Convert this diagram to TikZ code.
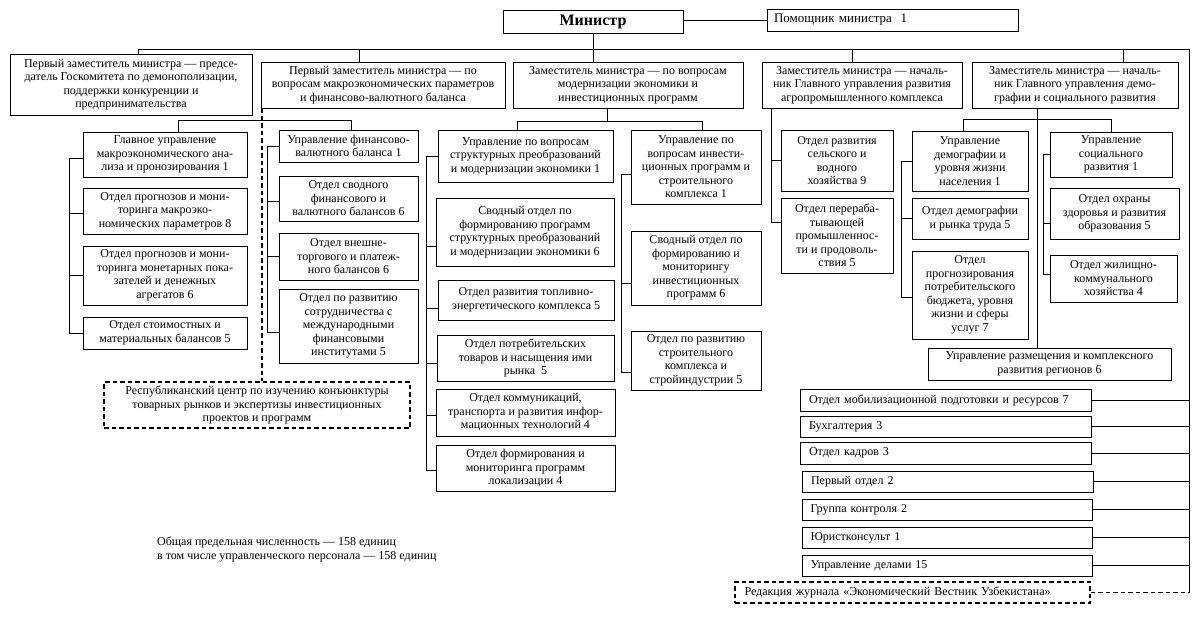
\documentclass[tikz,border=0pt]{standalone}
\usepackage{fontspec}
\setmainfont{Liberation Serif}
\newcommand\fs{\fontsize{12}{13.5}\selectfont}
\newcommand\bx[7][]{\node[box,minimum width={#5-#3},minimum height={#6-#4},#1] (#2) at ({(#3+#5)/2},{(#4+#6)/2}) {#7};}
\begin{document}
\begin{tikzpicture}[x=1pt,y=-1pt,
 box/.style={draw, line width=0.8pt, inner sep=1pt, align=center, font=\fs},
 lbox/.style={align=left, text width=273pt},
 dbox/.style={line width=1.8pt, dash pattern=on 4.5pt off 3pt},
 ln/.style={line width=0.8pt},
 dln/.style={line width=1.8pt, dash pattern=on 4.5pt off 3pt}]
\useasboundingbox[fill=white] (0,0) rectangle (1204,629);
% top
\bx[font=\fontsize{16}{18}\selectfont\bfseries]{min}{503}{10}{683}{33}{Министр}
\bx[align=left, text width=237pt, font=\fontsize{13}{15}\selectfont]{pom}{767}{9}{1018}{31}{Помощник министра~~1}
\bx{d1}{10}{54}{252}{115}{Первый заместитель министра — предсе-\\датель Госкомитета по демонополизации,\\поддержки конкуренции и\\предпринимательства}
\bx{d2}{261}{62}{505}{108}{Первый заместитель министра — по\\вопросам макроэкономических параметров\\и финансово-валютного баланса}
\bx{d3}{513}{62}{743}{108}{Заместитель министра — по вопросам\\модернизации экономики и\\инвестиционных программ}
\bx{d4}{762}{62}{962}{108}{Заместитель министра — началь-\\ник Главного управления развития\\агропромышленного комплекса}
\bx{d5}{972}{62}{1178}{108}{Заместитель министра — началь-\\ник Главного управления демо-\\графии и социального развития}
% group 1
\bx{g1a}{83}{132}{247}{177}{Главное управление\\макроэкономического ана-\\лиза и пронозирования 1}
\bx{g1b}{83}{188}{247}{234}{Отдел прогнозов и мони-\\торинга макроэко-\\номических параметров 8}
\bx{g1c}{83}{246}{247}{305}{Отдел прогнозов и мони-\\торинга монетарных пока-\\зателей и денежных\\агрегатов 6}
\bx{g1d}{83}{317}{247}{349}{Отдел стоимостных и\\материальных балансов 5}
% group 2
\bx{g2a}{279}{130}{418}{162}{Управление финансово-\\валютного баланса 1}
\bx{g2b}{279}{176}{418}{221}{Отдел сводного\\финансового и\\валютного балансов 6}
\bx{g2c}{279}{233}{418}{280}{Отдел внешне-\\торгового и платеж-\\ного балансов 6}
\bx{g2d}{279}{289}{418}{363}{Отдел по развитию\\сотрудничества с\\международными\\финансовыми\\институтами 5}
\bx[dbox]{rc}{104}{382}{410}{428}{Республиканский центр по изучению конъюнктуры\\товарных рынков и экспертизы инвестиционных\\проектов и программ}
% group 3a
\bx{s1}{438}{130}{613}{182}{Управление по вопросам\\структурных преобразований\\и модернизации экономики 1}
\bx{s2}{436}{198}{614}{266}{Сводный отдел по\\формированию программ\\структурных преобразований\\и модернизации экономики 6}
\bx{s3}{438}{280}{614}{320}{Отдел развития топливно-\\энергетического комплекса 5}
\bx{s4}{437}{335}{614}{381}{Отдел потребительских\\товаров и насыщения ими\\рынка~~5}
\bx{s5}{436}{389}{615}{436}{Отдел коммуникаций,\\транспорта и развития инфор-\\мационных технологий 4}
\bx{s6}{436}{445}{615}{491}{Отдел формирования и\\мониторинга программ\\локализации 4}
% group 3b
\bx{t1}{631}{130}{761}{204}{Управление по\\вопросам инвести-\\ционных программ и\\строительного\\комплекса 1}
\bx{t2}{631}{231}{761}{305}{Сводный отдел по\\формированию и\\мониторингу\\инвестиционных\\программ 6}
\bx{t3}{631}{331}{761}{390}{Отдел по развитию\\строительного\\комплекса и\\стройиндустрии 5}
% group 4
\bx{a1}{781}{130}{893}{191}{Отдел развития\\сельского и\\водного\\хозяйства 9}
\bx{a2}{781}{198}{893}{273}{Отдел перераба-\\тывающей\\промышленнос-\\ти и продоволь-\\ствия 5}
% group 5
\bx{p1}{912}{131}{1028}{191}{Управление\\демографии и\\уровня жизни\\населения 1}
\bx{p2}{912}{198}{1028}{239}{Отдел демографии\\и рынка труда 5}
\bx{p3}{912}{251}{1028}{339}{Отдел\\прогнозирования\\потребительского\\бюджета, уровня\\жизни и сферы\\услуг 7}
\bx{q1}{1050}{132}{1172}{177}{Управление\\социального\\развития 1}
\bx{q2}{1050}{188}{1179}{239}{Отдел охраны\\здоровья и развития\\образования 5}
\bx{q3}{1050}{255}{1177}{302}{Отдел жилищно-\\коммунального\\хозяйства 4}
\bx{rz}{928}{348}{1171}{380}{Управление размещения и комплексного\\развития регионов 6}
% right column
\bx[lbox]{r1}{800}{389}{1091}{411}{Отдел мобилизационной подготовки и ресурсов 7}
\bx[lbox]{r2}{800}{416}{1091}{437}{Бухгалтерия 3}
\bx[lbox]{r3}{800}{442}{1091}{464}{Отдел кадров 3}
\bx[lbox]{r4}{802}{471}{1093}{492}{Первый отдел 2}
\bx[lbox]{r5}{802}{499}{1092}{520}{Группа контроля 2}
\bx[lbox]{r6}{802}{527}{1092}{548}{Юристконсульт 1}
\bx[lbox]{r7}{802}{555}{1092}{576}{Управление делами 15}
\bx[dbox,align=left,text width=336pt]{red}{735}{582}{1090}{603}{Редакция журнала «Экономический Вестник Узбекистана»}
\node[anchor=west, align=left, font=\fs, inner sep=0pt] (tot) at (157,549.5) {Общая предельная численность — 158 единиц\\в том числе управленческого персонала — 158 единиц};
% connectors
\coordinate (b1) at (138,49);
\coordinate (b2) at (359,49);
\coordinate (b4) at (852,49);
\coordinate (b5) at (1123,49);
\coordinate (rv) at (1189,49);
\draw[ln] (min.east |- pom.west) -- (pom.west);
\draw[ln] (b1) -- (rv) -- (rv |- red.east);
\draw[ln] (min.south) -- (min.south |- d3.north);
\draw[ln] (b1) -- (b1 |- d1.north);
\draw[ln] (b2) -- (b2 |- d2.north);
\draw[ln] (b4) -- (b4 |- d4.north);
\draw[ln] (b5) -- (b5 |- d5.north);
% groups 1/2
\draw[ln] ([xshift=13pt]g1a.north) -- ++(0,-11) -| ([xshift=2.5pt]g2a.north);
\draw[dln] ([xshift=1pt]d2.south west) -- ([xshift=1pt]d2.south west |- rc.north);
\draw[ln] ([yshift=-4pt]g1a.west) -- ++(-13,0) |- (g1d.west);
\draw[ln] ([yshift=-2pt]g1b.west) -- ++(-13,0);
\draw[ln] (g1c.west) -- ++(-13,0);
\draw[ln] (g2a.west) -- ++(-11,0) |- ([yshift=-6pt]g2d.west);
\draw[ln] ([yshift=-2.5pt]g2b.west) -- ++(-11,0);
\draw[ln] (g2c.west) -- ++(-11,0);
% group 3
\draw[ln] ([xshift=-21pt]d3.south) -- ++(0,14);
\draw[ln] ([xshift=-8.5pt]s1.north) -- ++(0,-8) -| ([xshift=6.5pt]t1.north);
\draw[ln] (s1.west) -- ++(-11,0) |- ([yshift=-2pt]s6.west);
\draw[ln] ([yshift=-14pt]s2.west) -- ++(-9,0);
\draw[ln] ([yshift=-8pt]s3.west) -- ++(-11,0);
\draw[ln] ([yshift=-5pt]s4.west) -- ++(-10,0);
\draw[ln] ([yshift=-2.5pt]s5.west) -- ++(-9,0);
\draw[ln] ([yshift=-7pt]t1.west) -- ++(-9,0) |- ([yshift=-11.5pt]t3.west);
\draw[ln] ([yshift=-15pt]t2.west) -- ++(-9,0);
% group 4
\draw[ln] ([xshift=10pt]d4.south west) |- ([yshift=13.5pt]a2.west);
\draw[ln] (a1.west) -- ++(-9,0);
% group 5
\draw[ln] ([xshift=-37.5pt]d5.south) -- ([xshift=-37.5pt]d5.south |- rz.north);
\draw[ln] ([xshift=-7pt]p1.north) -- ++(0,-11) -| (q1.north);
\draw[ln] (p1.west) -- ++(-10,0) |- ([yshift=-2pt]p3.west);
\draw[ln] (p2.west) -- ++(-10,0);
\draw[ln] (q1.west) -- ++(-6,0) |- ([yshift=4.5pt]q3.west);
\draw[ln] ([yshift=-9.5pt]q2.west) -- ++(-6,0);
% right column
\foreach \n in {r1,r2,r3,r4,r5,r6,r7} \draw[ln] (\n.east) -- (\n.east -| rv);
\draw[dln] (red.east) -- (red.east -| rv);
\end{tikzpicture}
\end{document}
